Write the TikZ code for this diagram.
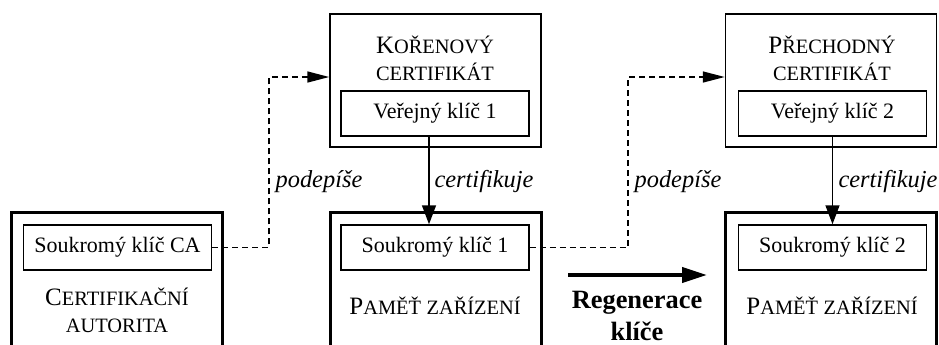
\documentclass[tikz,border=0pt]{standalone}
\usepackage{fontspec}
\setmainfont{Liberation Serif}
\usetikzlibrary{arrows.meta}
\newcommand{\kap}[2]{{\fontsize{12.5}{13.5}\selectfont #1}{\fontsize{10.2}{13.5}\selectfont #2}}

\begin{document}
\begin{tikzpicture}[x=0.5pt,y=-0.5pt,
  every node/.style={font=\fontsize{11}{13.5}\selectfont},
  cert/.style={draw,line width=0.75pt,minimum width=105.5pt,minimum height=66.5pt,inner sep=0pt},
  mem/.style={draw,line width=1.5pt,minimum width=105.5pt,minimum height=80pt,inner sep=0pt},
  key/.style={draw,line width=0.75pt,minimum width=94pt,minimum height=22.5pt,inner sep=0pt},
  sign/.style={dash pattern=on 3pt off 2pt,line width=0.75pt,-{Triangle[length=11pt,width=5.5pt]}},
  certif/.style={line width=0.75pt,-{Triangle[length=9.5pt,width=7pt]}},
  lbl/.style={font=\fontsize{12.2}{14}\selectfont\itshape}]
	\clip (0,0) rectangle (939,344);
	% certifikaty
	\node[cert] (root) at (435.5,80.5) {};
	\node[key] (pub1) at (435,113.5) {Veřejný klíč 1};
	\node[align=center] (roottitle) at (435,58) {\kap{K}{OŘENOVÝ}\\\kap{}{CERTIFIKÁT}};
	\node[cert] (inter) at (831,80.5) {};
	\node[key] (pub2) at (832.5,113.5) {Veřejný klíč 2};
	\node[align=center] (intertitle) at (832,58) {\kap{P}{ŘECHODNÝ}\\\kap{}{CERTIFIKÁT}};
	% pameti
	\node[mem] (ca) at (117,292) {};
	\node[key] (privca) at (117.5,247.5) {Soukromý klíč CA};
	\node[align=center] (catitle) at (117,310) {\kap{C}{ERTIFIKAČNÍ}\\\kap{}{AUTORITA}};
	\node[mem] (dev1) at (435.5,292) {};
	\node[key] (priv1) at (435,247.5) {Soukromý klíč 1};
	\node (dev1title) at (435,306) {\kap{P}{AMĚŤ} \kap{}{ZAŘÍZENÍ}};
	\node[mem] (dev2) at (831,292) {};
	\node[key] (priv2) at (832.5,247.5) {Soukromý klíč 2};
	\node (dev2title) at (832,306) {\kap{P}{AMĚŤ} \kap{}{ZAŘÍZENÍ}};
	% podpisy
	\draw[sign] (privca.east) -- (269,247.5) -- (269,77) -- (root.west |- 0,77);
	\draw[sign] (priv1.east) -- (628,247.5) -- (628,77) -- (inter.west |- 0,77);
	\node[lbl] (sign1) at (319,182) {podepíše};
	\node[lbl] (sign2) at (678,182) {podepíše};
	% certifikace
	\draw[certif] (pub1.south -| 429,0) -- (priv1.north -| 429,0);
	\draw[certif] (pub2) -- (priv2);
	\node[lbl] (cert1) at (484,182) {certifikuje};
	\node[lbl] (cert2) at (888,182) {certifikuje};
	% regenerace
	\coordinate (regA) at (568,275);
	\coordinate (regB) at (707,275);
	\draw[line width=2pt,-{Triangle[length=12.5pt,width=7.5pt]}] (regA) -- (regB);
	\node[align=center,font=\fontsize{13.2}{16}\selectfont\bfseries] (regen) at (637,316) {Regenerace\\klíče};
\end{tikzpicture}
\end{document}
